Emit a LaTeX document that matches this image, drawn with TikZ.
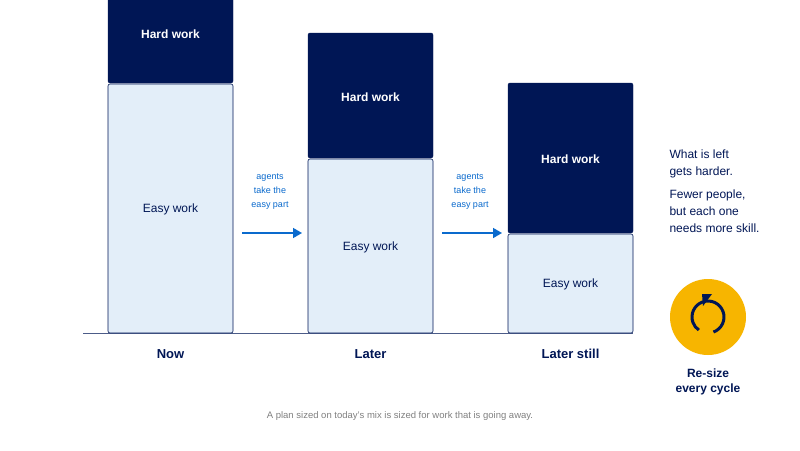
\documentclass[tikz,border=0pt]{standalone}
\usepackage{fontspec}
\setmainfont{Liberation Sans}
\usetikzlibrary{arrows.meta}
\definecolor{navy}{HTML}{001655}
\definecolor{pale}{HTML}{E3EEF9}
\definecolor{blu}{HTML}{0A6ACD}
\definecolor{gold}{HTML}{F7B500}
\begin{document}
\begin{tikzpicture}[x=1pt,y=-1pt,
 hard/.style={fill=navy,draw=navy,rounded corners=2pt},
 easy/.style={fill=pale,draw=navy,line width=0.6pt,rounded corners=2pt},
 ht/.style={text=white,font=\bfseries\fontsize{12}{14}\selectfont},
 et/.style={text=navy,font=\fontsize{12}{14}\selectfont},
 lab/.style={text=navy,font=\bfseries\fontsize{13}{15}\selectfont},
 ag/.style={text=blu,font=\fontsize{9}{14}\selectfont,align=center},
 arr/.style={blu,line width=1.6pt,-{Triangle[length=9pt,width=10pt]}}]
\useasboundingbox (0,0) rectangle (800,450);
\fill[white] (0,0) rectangle (800,450);
\draw[navy!70,line width=0.6pt] (83,333) -- (633,333);
\draw[hard] (108,-5) rectangle (233,83); \node[ht] (h1) at (170.5,34) {Hard work};
\draw[easy] (108,84) rectangle (233,333); \node[et] (e1) at (170.5,209) {Easy work};
\draw[hard] (308,33) rectangle (433,158); \node[ht] (h2) at (370.5,97) {Hard work};
\draw[easy] (308,159) rectangle (433,333); \node[et] (e2) at (370.5,247) {Easy work};
\draw[hard] (508,83) rectangle (633,233); \node[ht] (h3) at (570.5,159) {Hard work};
\draw[easy] (508,234) rectangle (633,333); \node[et] (e3) at (570.5,284) {Easy work};
\node[lab] (l1) at (170.5,354) {Now};
\node[lab] (l2) at (370.5,354) {Later};
\node[lab] (l3) at (570.5,354) {Later still};
\node[ag] (a1) at (270,192) {agents\\take the\\easy part};
\node[ag] (a2) at (470,192) {agents\\take the\\easy part};
\coordinate (s1) at (242,233); \coordinate (t1) at (302,233);
\coordinate (s2) at (442,233); \coordinate (t2) at (502,233);
\draw[arr] (s1) -- (t1); \draw[arr] (s2) -- (t2);
\node[anchor=north west,text=navy,font=\fontsize{12}{17}\selectfont,align=left] (r) at (666,146) {What is left\\gets harder.\\[6pt]Fewer people,\\but each one\\needs more skill.};
\node[circle,fill=gold,minimum size=76pt,inner sep=0] (c) at (708,317) {};
\draw[navy,line width=3pt] (708,317) ++(70:16) arc[start angle=70,end angle=-235,radius=16];
\fill[navy] (702,294) -- (712,294) -- (703,306) -- cycle;
\node[lab,align=center,font=\bfseries\fontsize{12}{15}\selectfont] (rs) at (708,382) {Re-size\\every cycle};
\node[text=gray,font=\fontsize{9.5}{11}\selectfont] (b) at (400,416) {A plan sized on today's mix is sized for work that is going away.};
\end{tikzpicture}
\end{document}
